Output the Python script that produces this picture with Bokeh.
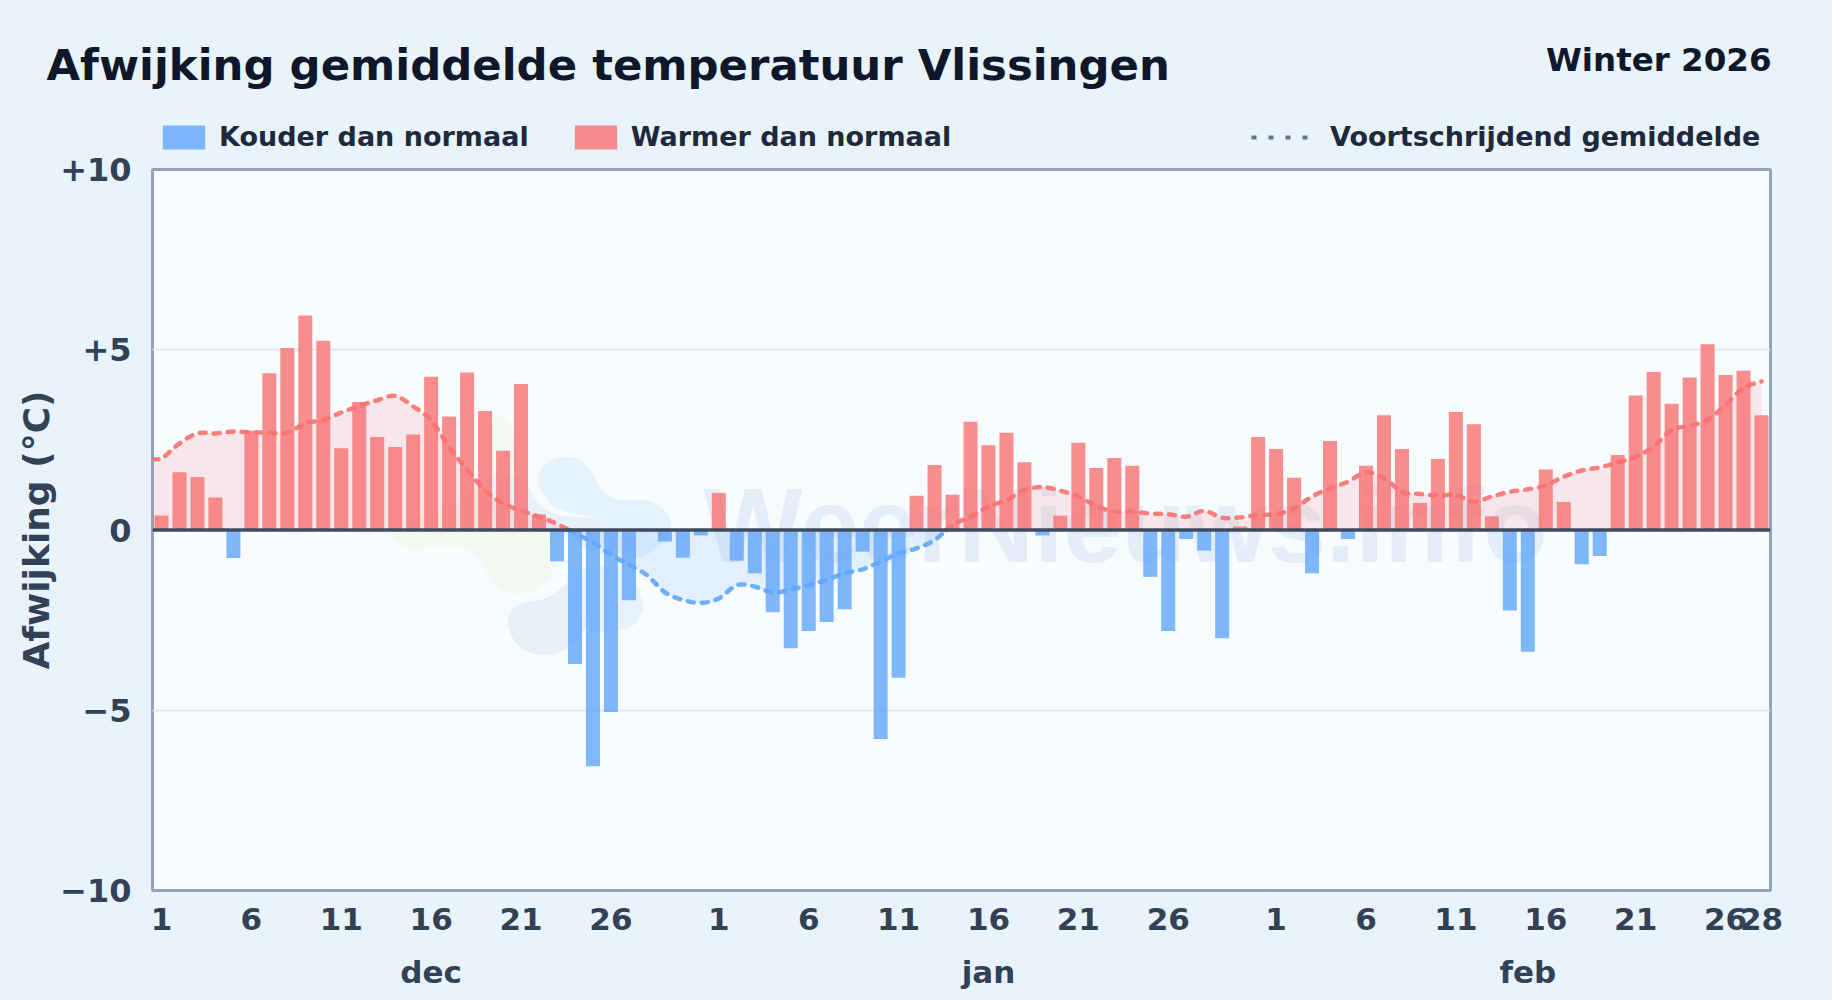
import numpy as np
from bokeh.plotting import figure
from bokeh.layouts import column, row
from bokeh.embed import file_html
from bokeh.resources import INLINE
from bokeh.core.properties import value
from bokeh.models import (ColumnDataSource, FixedTicker, Label, Legend, LegendItem, LinearAxis,
                          Range1d, Span, AllLabels)

# ---------- data ----------
dec = [0.40, 1.60, 1.47, 0.90, -0.78, 2.75, 4.35, 5.05, 5.95, 5.25, 2.27, 3.55, 2.58, 2.30, 2.65, 4.25,
       3.15, 4.37, 3.30, 2.20, 4.05, 0.43, -0.87, -3.72, -6.55, -5.05, -1.95, -0.05, -0.32, -0.77, -0.15]
jan = [1.03, -0.85, -1.20, -2.28, -3.28, -2.80, -2.55, -2.20, -0.60, -5.80, -4.10, 0.95, 1.80, 0.98, 3.00, 2.35,
       2.70, 1.88, -0.15, 0.40, 2.42, 1.72, 2.00, 1.78, -1.30, -2.80, -0.25, -0.57, -3.00, 0.10, 2.58]
feb = [2.25, 1.45, -1.20, 2.47, -0.25, 1.78, 3.18, 2.25, 0.75, 1.97, 3.27, 2.93, 0.38, -2.23, -3.38, 1.68,
       0.78, -0.95, -0.72, 2.08, 3.73, 4.38, 3.50, 4.23, 5.15, 4.30, 4.42, 3.18]
rolling = [1.96, 2.40, 2.68, 2.68, 2.73, 2.71, 2.70, 2.70, 2.96, 3.05, 3.26, 3.44, 3.60, 3.72, 3.43, 3.05,
           2.30, 1.67, 1.10, 0.74, 0.54, 0.37, 0.17, -0.09, -0.35, -0.69, -0.97, -1.25, -1.73, -1.94, -2.02,
           -1.90, -1.53, -1.57, -1.74, -1.65, -1.53, -1.39, -1.20, -1.09, -0.88, -0.65, -0.51, -0.28, 0.14, 0.37,
           0.65, 0.83, 1.11, 1.19, 1.09, 0.93, 0.67, 0.51, 0.51, 0.46, 0.44, 0.37, 0.53, 0.34, 0.35, 0.42,
           0.44, 0.60, 0.93, 1.16, 1.34, 1.60, 1.44, 1.06, 1.00, 0.96, 0.97, 0.79, 0.93, 1.06, 1.13, 1.24,
           1.48, 1.65, 1.74, 1.87, 2.04, 2.31, 2.78, 2.89, 3.06, 3.47, 3.94, 4.12]
tick_days = [1, 6, 11, 16, 21, 26, 32, 37, 42, 47, 52, 57, 63, 68, 73, 78, 83, 88, 90]
tick_labels = ["1", "6", "11", "16", "21", "26", "1", "6", "11", "16", "21", "26", "1", "6", "11", "16", "21", "26", "28"]
month_days = [16, 47, 77]
month_labels = ["dec", "jan", "feb"]
y_ticks = [-10, -5, 0, 5, 10]
y_labels = ["\u221210", "\u22125", "0", "+5", "+10"]

# ---------- decorative watermark outlines (picture pixels) ----------
blob_top = [(537, 478), (550, 460), (573, 457), (590, 470), (600, 488), (618, 499), (647, 500), (667, 513),
            (670, 530), (660, 545), (637, 557), (613, 547), (610, 527), (590, 517), (563, 510), (547, 500)]
blob_back = [(487, 477), (513, 475), (528, 487), (540, 505), (560, 515), (587, 517), (608, 523), (613, 540),
             (607, 553), (587, 550), (563, 533), (527, 530), (493, 517)]
blob_green = [(493, 420), (507, 420), (515, 440), (517, 473), (527, 493), (542, 520), (552, 553), (553, 570),
              (537, 588), (513, 593), (493, 583), (480, 560), (463, 547), (433, 545), (407, 547), (390, 537),
              (383, 530), (427, 513), (477, 487)]
blob_low = [(507, 623), (517, 605), (547, 597), (567, 583), (580, 587), (587, 620), (573, 643), (547, 655), (520, 647)]
blob_right = [(567, 577), (593, 567), (627, 567), (640, 593), (642, 610), (630, 627), (603, 632), (587, 623)]

BG = "#e9f3fc"
PLOT = "#f8fcff"
DARK = "#0f172a"
TXT = "#334155"
RED = "#f87171"
BLUE = "#60a5fa"
HEAD = 152


def smooth(xs, ys, n=8, closed=False):
    xs, ys = np.asarray(xs, float), np.asarray(ys, float)
    if closed:
        xs = np.r_[xs[-1], xs, xs[:2]]
        ys = np.r_[ys[-1], ys, ys[:2]]
    else:
        xs = np.r_[xs[0], xs, xs[-1]]
        ys = np.r_[ys[0], ys, ys[-1]]
    ox, oy = [], []
    t = np.linspace(0, 1, n, endpoint=False)
    for i in range(1, len(xs) - 2):
        for a, o in ((xs, ox), (ys, oy)):
            p0, p1, p2, p3 = a[i - 1], a[i], a[i + 1], a[i + 2]
            o.extend(0.5 * (2 * p1 + (p2 - p0) * t + (2 * p0 - 5 * p1 + 4 * p2 - p3) * t ** 2
                            + (3 * p1 - p0 - 3 * p2 + p3) * t ** 3))
    if not closed:
        ox.append(xs[-1])
        oy.append(ys[-1])
    return np.array(ox), np.array(oy)


values = np.array(dec + jan + feb)
days = np.arange(1, len(values) + 1)
cold = ColumnDataSource(dict(x=days[values < 0], top=values[values < 0]))
warm = ColumnDataSource(dict(x=days[values >= 0], top=values[values >= 0]))

p = figure(width=1832, height=1000 - HEAD, output_backend="svg", toolbar_location=None,
           x_range=Range1d(0.5, 90.5), y_range=Range1d(-10, 10),
           min_border_left=152, min_border_right=62, min_border_top=169 - HEAD, min_border_bottom=110,
           background_fill_color=PLOT, border_fill_color=BG,
           outline_line_color="#94a3b8", outline_line_width=3, outline_line_alpha=1)
p.extra_x_ranges["px"] = Range1d(152, 1770)
p.extra_y_ranges["px"] = Range1d(890, 169)

# watermark
for pts, col in ((blob_green, "#f2f9f1"), (blob_back, "#e8f1f9"), (blob_top, "#e5f3fe"),
                 (blob_low, "#e6f0f9"), (blob_right, "#e6f3fe")):
    bx, by = smooth([q[0] for q in pts], [q[1] for q in pts], closed=True)
    p.patch(bx, by, x_range_name="px", y_range_name="px", fill_color=col, line_color=None, level="underlay")
p.text(x=[703], y=[525], text=["WeerNieuws.info"], x_range_name="px", y_range_name="px",
       text_font=value("Liberation Sans"), text_font_style="bold", text_font_size="105px",
       text_color="#cfe0f2", text_alpha=0.5, text_baseline="alphabetic", level="underlay")

# area and bars
sx, sy = smooth(days, rolling, n=8)
cx, cy = [sx[0]], [sy[0]]
for i in range(1, len(sx)):
    if sy[i - 1] * sy[i] < 0:
        cx.append(sx[i - 1] + (sx[i] - sx[i - 1]) * sy[i - 1] / (sy[i - 1] - sy[i]))
        cy.append(0.0)
    cx.append(sx[i])
    cy.append(sy[i])
cx, cy = np.array(cx), np.array(cy)
# the curve reaches the frame on the left in the reference
cx = np.r_[0.5, cx]
cy = np.r_[cy[0], cy]
pos_y = np.where(cy >= 0, cy, 0.0)
neg_y = np.where(cy <= 0, cy, 0.0)
p.varea(cx, y1=0, y2=pos_y, fill_color=RED, fill_alpha=0.15)
p.varea(cx, y1=0, y2=neg_y, fill_color=BLUE, fill_alpha=0.15)

p.vbar(x="x", top="top", bottom=0, width=0.78, source=cold, fill_color=BLUE, fill_alpha=0.8, line_color=None)
p.vbar(x="x", top="top", bottom=0, width=0.78, source=warm, fill_color=RED, fill_alpha=0.8, line_color=None)

line_pos = np.where(cy >= 0, cy, np.nan)
line_neg = np.where(cy <= 0, cy, np.nan)
p.line(cx, line_pos, line_color=RED, line_width=4.5, line_dash="6 8", line_cap="round", line_alpha=0.9)
p.line(cx, line_neg, line_color=BLUE, line_width=4.5, line_dash="6 8", line_cap="round", line_alpha=0.9)

p.add_layout(Span(location=0, dimension="width", line_color="#3f4b5f", line_width=3.5))

# axes
p.xgrid.visible = False
p.ygrid.ticker = FixedTicker(ticks=[-5, 5])
p.ygrid.grid_line_color = "#e2e8f0"
p.ygrid.grid_line_width = 2

ax = p.xaxis[0]
ax.ticker = FixedTicker(ticks=tick_days)
ax.major_label_overrides = dict(zip(tick_days, tick_labels))
ax.major_label_policy = AllLabels()
ay = p.yaxis[0]
ay.ticker = FixedTicker(ticks=y_ticks)
ay.major_label_overrides = dict(zip(y_ticks, y_labels))
ay.axis_label = "Afwijking (\u00b0C)"
ay.axis_label_text_font = "DejaVu Sans"
ay.axis_label_text_font_style = "bold"
ay.axis_label_text_font_size = "36px"
ay.axis_label_text_color = TXT
ay.axis_label_standoff = 0

month_axis = LinearAxis(ticker=FixedTicker(ticks=month_days),
                        major_label_overrides=dict(zip(month_days, month_labels)))
p.add_layout(month_axis, "below")

for a in (ax, ay, month_axis):
    a.axis_line_color = None
    a.major_tick_line_color = None
    a.minor_tick_line_color = None
    a.major_label_text_font = "DejaVu Sans"
    a.major_label_text_font_style = "bold"
    a.major_label_text_font_size = "31px"
    a.major_label_text_color = TXT
ay.major_label_text_font_size = "32px"
ax.major_label_standoff = 11
ay.major_label_standoff = 15
month_axis.major_label_standoff = 15

# ---------- header strip: title, season and legend ----------
h = figure(width=1832, height=HEAD, output_backend="svg", toolbar_location=None,
           x_range=Range1d(0, 1832), y_range=Range1d(HEAD, 0),
           x_axis_location=None, y_axis_location=None,
           min_border=0, min_border_left=0, min_border_right=0, min_border_top=0, min_border_bottom=0,
           background_fill_color=BG, border_fill_color=BG, outline_line_color=None)
h.grid.visible = False
h.add_layout(Label(x=46, y=64, text="Afwijking gemiddelde temperatuur Vlissingen",
                   text_font="DejaVu Sans", text_font_style="bold", text_font_size="43.4px", text_color=DARK,
                   text_baseline="middle"))
h.add_layout(Label(x=1771, y=59, text="Winter 2026",
                   text_font="DejaVu Sans", text_font_style="bold", text_font_size="32.5px", text_color=DARK,
                   text_align="right", text_baseline="middle"))

no_x, no_y = [np.nan], [np.nan]
r_cold = h.vbar(x=no_x, top=no_y, bottom=0, width=1, fill_color=BLUE, fill_alpha=0.8, line_color=None)
r_warm = h.vbar(x=no_x, top=no_y, bottom=0, width=1, fill_color=RED, fill_alpha=0.8, line_color=None)
r_avg = h.line(no_x, no_y, line_color="#64748b", line_width=4, line_dash="5 12")


def make_legend(items, loc, glyph_width, standoff, spacing):
    lg = Legend(items=items, location=loc, orientation="horizontal", padding=0, margin=0, spacing=spacing,
                glyph_width=glyph_width, glyph_height=30, label_standoff=standoff,
                background_fill_alpha=0, border_line_alpha=0,
                label_text_font="DejaVu Sans", label_text_font_style="bold", label_text_font_size="27px",
                label_text_color="#1e293b", label_height=30)
    h.add_layout(lg, "center")


make_legend([LegendItem(label="Kouder dan normaal", renderers=[r_cold]),
             LegendItem(label="Warmer dan normaal", renderers=[r_warm])], (157, 0), 53, 9, 40)
make_legend([LegendItem(label="Voortschrijdend gemiddelde", renderers=[r_avg])], (1251, 0), 60, 19, 0)

html = file_html(column(row(h), row(p), spacing=0), INLINE)
html = html.replace("<head>", "<head><style>html,body{background:" + BG + ";}</style>", 1)
open("out.html", "w").write(html)
